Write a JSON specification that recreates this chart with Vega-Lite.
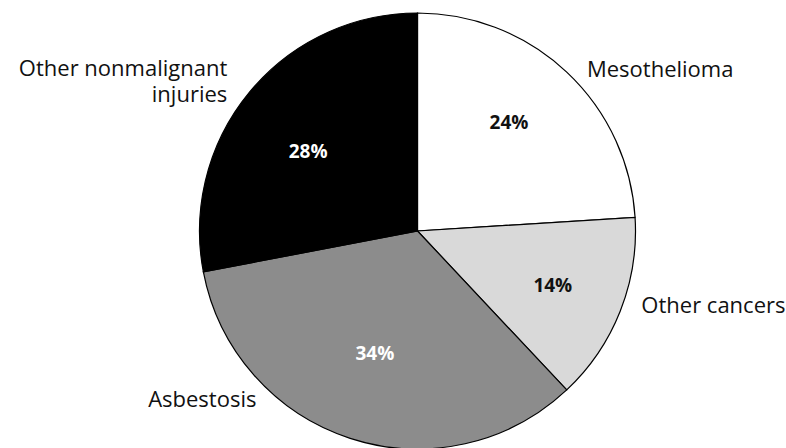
{
  "$schema": "https://vega.github.io/schema/vega-lite/v6.json",
  "width": 436,
  "height": 436,
  "autosize": "none",
  "padding": {"left": 199.5, "top": 13, "right": 150.5, "bottom": 0},
  "background": "white",
  "view": {"stroke": null},
  "data": {
    "values": [
      {"cause": "Mesothelioma", "pct": 24, "label": "24%", "order": 1},
      {"cause": "Other cancers", "pct": 14, "label": "14%", "order": 2},
      {"cause": "Asbestosis", "pct": 34, "label": "34%", "order": 3},
      {"cause": "Other nonmalignant injuries", "pct": 28, "label": "28%", "order": 4}
    ]
  },
  "encoding": {
    "theta": {"field": "pct", "type": "quantitative", "stack": true},
    "order": {"field": "order", "type": "quantitative"}
  },
  "layer": [
    {
      "mark": {"type": "arc", "outerRadius": 218, "stroke": "#000000", "strokeWidth": 1.2},
      "encoding": {
        "fill": {
          "field": "cause",
          "type": "nominal",
          "scale": {
            "domain": ["Mesothelioma", "Other cancers", "Asbestosis", "Other nonmalignant injuries"],
            "range": ["#ffffff", "#d9d9d9", "#8c8c8c", "#000000"]
          },
          "legend": null
        }
      }
    },
    {
      "mark": {"type": "text", "radius": 138, "dx": -3, "dy": -7, "fontSize": 19, "fontWeight": "bold", "font": "Open Sans", "align": "center", "baseline": "middle", "color": "#111111"},
      "encoding": {"text": {"condition": {"test": "datum.order === 1", "field": "label"}, "value": ""}}
    },
    {
      "mark": {"type": "text", "radius": 138, "dx": 7, "dy": 4, "fontSize": 19, "fontWeight": "bold", "font": "Open Sans", "align": "center", "baseline": "middle", "color": "#111111"},
      "encoding": {"text": {"condition": {"test": "datum.order === 2", "field": "label"}, "value": ""}}
    },
    {
      "mark": {"type": "text", "radius": 138, "dx": 0, "dy": -8, "fontSize": 19, "fontWeight": "bold", "font": "Open Sans", "align": "center", "baseline": "middle", "color": "#ffffff"},
      "encoding": {"text": {"condition": {"test": "datum.order === 3", "field": "label"}, "value": ""}}
    },
    {
      "mark": {"type": "text", "radius": 138, "dx": -3, "dy": 9, "fontSize": 19, "fontWeight": "bold", "font": "Open Sans", "align": "center", "baseline": "middle", "color": "#ffffff"},
      "encoding": {"text": {"condition": {"test": "datum.order === 4", "field": "label"}, "value": ""}}
    },
    {
      "mark": {"type": "text", "radius": 230, "dx": 12, "dy": 14, "fontSize": 22, "font": "Open Sans", "align": "left", "baseline": "alphabetic", "color": "#111111"},
      "encoding": {
        "text": {"condition": {"test": "datum.order === 1", "field": "cause"}, "value": ""}
      }
    },
    {
      "mark": {"type": "text", "radius": 230, "dx": 10, "dy": -3, "fontSize": 22, "font": "Open Sans", "align": "left", "baseline": "alphabetic", "color": "#111111"},
      "encoding": {
        "text": {"condition": {"test": "datum.order === 2", "field": "cause"}, "value": ""}
      }
    },
    {
      "mark": {"type": "text", "radius": 230, "dx": -90, "dy": -43, "fontSize": 22, "font": "Open Sans", "align": "right", "baseline": "alphabetic", "color": "#111111"},
      "encoding": {
        "text": {"condition": {"test": "datum.order === 3", "field": "cause"}, "value": ""}
      }
    },
    {
      "mark": {"type": "text", "radius": 230, "dx": -13, "dy": -8, "fontSize": 22, "font": "Open Sans", "align": "right", "baseline": "alphabetic", "lineHeight": 26, "color": "#111111"},
      "encoding": {
        "text": {"condition": {"test": "datum.order === 4", "value": ["Other nonmalignant", "injuries"]}, "value": ""}
      }
    }
  ]
}
